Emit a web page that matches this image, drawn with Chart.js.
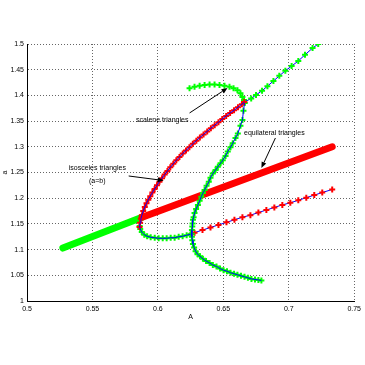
<!DOCTYPE html>
<html>
<head>
<meta charset="utf-8">
<title>triangles</title>
<script src="https://cdn.jsdelivr.net/npm/chart.js@4.4.1/dist/chart.umd.min.js"></script>
<style>
    html, body { margin: 0; padding: 0; background: #fff; }
    canvas { display: block; }
</style>
</head>
<body>
<canvas id="the-chart" width="365" height="365"></canvas>
<script>
// axis ticks
const xTicks = [0.5, 0.55, 0.6, 0.65, 0.7, 0.75];
const yTicks = [1, 1.05, 1.1, 1.15, 1.2, 1.25, 1.3, 1.35, 1.4, 1.45, 1.5];

// thick lines (equilateral)
const equiGreenX = [0.5274, 0.5880];
const equiGreenY = [1.103, 1.163];
const equiRedX = [0.5880, 0.7332];
const equiRedY = [1.163, 1.300];

// isosceles branch, red markers, upper part
const isoUpperX = [0.5860, 0.5864, 0.5870, 0.5878, 0.5888, 0.5900, 0.5913, 0.5927, 0.5942, 0.5958,
    0.5975, 0.5993, 0.6012, 0.6032, 0.6052, 0.6073, 0.6095, 0.6118, 0.6141, 0.6165,
    0.6190, 0.6215, 0.6241, 0.6267, 0.6294, 0.6321, 0.6349, 0.6377, 0.6405, 0.6434,
    0.6463, 0.6492, 0.6522, 0.6552, 0.6582, 0.6612, 0.6642, 0.6660];
const isoUpperY = [1.144, 1.152, 1.160, 1.167, 1.175, 1.183, 1.190, 1.197, 1.204, 1.211,
    1.218, 1.225, 1.232, 1.239, 1.246, 1.253, 1.260, 1.267, 1.274, 1.280,
    1.287, 1.293, 1.299, 1.306, 1.312, 1.318, 1.324, 1.330, 1.336, 1.342,
    1.348, 1.354, 1.360, 1.366, 1.371, 1.377, 1.383, 1.387];

// isosceles branch, red markers, lower right
const isoLowX = [0.6258, 0.6280, 0.6341, 0.6402, 0.6463, 0.6524, 0.6585, 0.6646, 0.6707, 0.6768,
    0.6829, 0.6890, 0.6951, 0.7012, 0.7073, 0.7134, 0.7195, 0.7256, 0.7332];
const isoLowY = [1.131, 1.133, 1.138, 1.143, 1.148, 1.153, 1.158, 1.163, 1.167, 1.172,
    1.177, 1.182, 1.187, 1.191, 1.196, 1.201, 1.206, 1.211, 1.217];

// green markers going up to the top right
const scalUpX = [0.6660, 0.6713, 0.6750, 0.6796, 0.6837, 0.6883, 0.6928, 0.6974, 0.7022, 0.7073,
    0.7124, 0.7182, 0.7225];
const scalUpY = [1.387, 1.394, 1.401, 1.409, 1.418, 1.428, 1.438, 1.448, 1.457, 1.467,
    1.479, 1.492, 1.500];

// green hook at the top (no line)
const hookTopX = [0.6242, 0.6280, 0.6319, 0.6357, 0.6395, 0.6433, 0.6471, 0.6509, 0.6547, 0.6578,
    0.6608, 0.6631, 0.6646, 0.6658, 0.6662];
const hookTopY = [1.414, 1.417, 1.419, 1.420, 1.421, 1.421, 1.420, 1.419, 1.417, 1.414,
    1.410, 1.404, 1.397, 1.391, 1.385];

// green branch going down and out to the right
const scalDownX = [0.6662, 0.6654, 0.6646, 0.6631, 0.6611, 0.6593, 0.6572, 0.6555, 0.6534, 0.6517,
    0.6496, 0.6479, 0.6458, 0.6441, 0.6420, 0.6402, 0.6389, 0.6372, 0.6357, 0.6344,
    0.6332, 0.6319, 0.6306, 0.6292, 0.6280, 0.6273, 0.6268, 0.6265, 0.6263, 0.6260,
    0.6259, 0.6260, 0.6263, 0.6268, 0.6277, 0.6288, 0.6303, 0.6322, 0.6344, 0.6368,
    0.6395, 0.6420, 0.6448, 0.6475, 0.6502, 0.6528, 0.6555, 0.6582, 0.6608, 0.6635,
    0.6662, 0.6688, 0.6715, 0.6742, 0.6768, 0.6791];
const scalDownY = [1.385, 1.370, 1.352, 1.341, 1.326, 1.317, 1.307, 1.299, 1.291, 1.282,
    1.274, 1.268, 1.261, 1.255, 1.248, 1.240, 1.232, 1.224, 1.216, 1.210,
    1.203, 1.195, 1.187, 1.179, 1.171, 1.163, 1.158, 1.151, 1.145, 1.138,
    1.131, 1.125, 1.118, 1.111, 1.104, 1.097, 1.091, 1.087, 1.082, 1.078,
    1.074, 1.070, 1.067, 1.063, 1.060, 1.058, 1.055, 1.053, 1.051, 1.049,
    1.047, 1.045, 1.043, 1.042, 1.041, 1.040];

// small green hook at the bottom left
const hookLowX = [0.5861, 0.5865, 0.5877, 0.5896, 0.5918, 0.5945, 0.5976, 0.6006, 0.6037, 0.6067,
    0.6098, 0.6128, 0.6159, 0.6189, 0.6220, 0.6250];
const hookLowY = [1.146, 1.140, 1.134, 1.129, 1.126, 1.124, 1.123, 1.122, 1.122, 1.122,
    1.123, 1.123, 1.125, 1.126, 1.128, 1.130];

// text notes with arrows, in data units
const notes = [
    { lines: ["scalene triangles"], at: [0.6033, 1.3521], from: [0.6242, 1.3658], to: [0.6532, 1.4144] },
    { lines: ["isosceles triangles", "(a=b)"], at: [0.5537, 1.2588], from: [0.5777, 1.2432], to: [0.6044, 1.2344] },
    { lines: ["equilateral triangles"], at: [0.6890, 1.3268], from: [0.6898, 1.3171], to: [0.6791, 1.2588] },
];

const FONT = "'Liberation Sans', Arial, Helvetica, sans-serif";

function pts(xs, ys) {
    return xs.map((x, i) => ({ x: x, y: ys[i] }));
}

// '+' markers, optionally with the blue line underneath
function markerSet(xs, ys, markerColor, withLine) {
    return {
        data: pts(xs, ys),
        showLine: withLine,
        borderColor: '#0000ff',
        borderWidth: 1,
        pointStyle: 'cross',
        pointRadius: 3,
        pointBorderWidth: 2,
        pointBorderColor: markerColor,
        pointBackgroundColor: markerColor,
    };
}

// plain blue line, used on top of the dense marker runs
function blueLine(xs, ys) {
    return {
        data: pts(xs, ys),
        showLine: true,
        borderColor: '#0000ff',
        borderWidth: 1,
        pointRadius: 0,
    };
}

function thickSet(xs, ys, color) {
    return {
        data: pts(xs, ys),
        showLine: true,
        borderColor: color,
        borderWidth: 7,
        borderCapStyle: 'round',
        pointRadius: 0,
    };
}

function fmt(v) {
    return String(Number(v.toFixed(2)));
}

const notesPlugin = {
    id: 'notes',
    afterDatasetsDraw(chart) {
        const ctx = chart.ctx;
        const xs = chart.scales.x, ys = chart.scales.y;
        ctx.save();
        ctx.fillStyle = '#000';
        ctx.strokeStyle = '#000';
        ctx.lineWidth = 1;
        ctx.font = "7px " + FONT;
        ctx.textAlign = 'center';
        ctx.textBaseline = 'middle';
        for (const n of notes) {
            const tx = xs.getPixelForValue(n.at[0]);
            const ty = ys.getPixelForValue(n.at[1]);
            n.lines.forEach((line, i) => ctx.fillText(line, tx, ty + i * 13));

            const x1 = xs.getPixelForValue(n.from[0]), y1 = ys.getPixelForValue(n.from[1]);
            const x2 = xs.getPixelForValue(n.to[0]), y2 = ys.getPixelForValue(n.to[1]);
            const ang = Math.atan2(y2 - y1, x2 - x1);
            const hl = 6, hw = 2.5;
            const bx = x2 - hl * Math.cos(ang), by = y2 - hl * Math.sin(ang);
            ctx.beginPath();
            ctx.moveTo(x1, y1);
            ctx.lineTo(bx, by);
            ctx.stroke();
            ctx.beginPath();
            ctx.moveTo(x2, y2);
            ctx.lineTo(bx + hw * Math.sin(ang), by - hw * Math.cos(ang));
            ctx.lineTo(bx - hw * Math.sin(ang), by + hw * Math.cos(ang));
            ctx.closePath();
            ctx.fill();
        }
        ctx.restore();
    }
};

const gridCommon = { color: 'rgba(0,0,0,0.6)', lineWidth: 1, drawTicks: false };
const borderCommon = { display: true, color: '#000', width: 1, dash: [1, 2] };

// dataset 0 is drawn on top, so the thick lines go last
const chart = new Chart(document.getElementById('the-chart'), {
    type: 'scatter',
    data: {
        datasets: [
            blueLine(isoUpperX, isoUpperY),
            blueLine(scalDownX, scalDownY),
            blueLine(hookLowX, hookLowY),
            markerSet(isoUpperX, isoUpperY, '#ff0000', false),
            markerSet(scalUpX, scalUpY, '#00ff00', true),
            markerSet(scalDownX, scalDownY, '#00ff00', false),
            markerSet(hookLowX, hookLowY, '#00ff00', false),
            markerSet(isoLowX, isoLowY, '#ff0000', true),
            markerSet(hookTopX, hookTopY, '#00ff00', false),
            thickSet(equiRedX, equiRedY, '#ff0000'),
            thickSet(equiGreenX, equiGreenY, '#00ff00'),
        ]
    },
    options: {
        responsive: false,
        animation: false,
        devicePixelRatio: 1,
        layout: { padding: { left: 0, top: 44, right: 10, bottom: 0 } },
        plugins: {
            legend: { display: false },
            tooltip: { enabled: false },
        },
        scales: {
            x: {
                type: 'linear',
                min: 0.5,
                max: 0.75,
                grid: gridCommon,
                border: borderCommon,
                afterBuildTicks: (scale) => { scale.ticks = xTicks.map(v => ({ value: v })); },
                afterFit: (scale) => { scale.height = 64; },
                ticks: {
                    color: '#000',
                    padding: 4,
                    maxRotation: 0,
                    font: { family: FONT, size: 7 },
                    callback: (v) => fmt(v),
                },
                title: {
                    display: true,
                    text: 'A',
                    color: '#000',
                    font: { family: FONT, size: 7 },
                    padding: { top: 0, bottom: 44 },
                },
            },
            y: {
                type: 'linear',
                min: 1,
                max: 1.5,
                grid: gridCommon,
                border: borderCommon,
                afterBuildTicks: (scale) => { scale.ticks = yTicks.map(v => ({ value: v })); },
                afterFit: (scale) => { scale.width = 27; },
                ticks: {
                    color: '#000',
                    padding: 3,
                    font: { family: FONT, size: 7 },
                    callback: (v) => fmt(v),
                },
                title: {
                    display: true,
                    text: 'a',
                    color: '#000',
                    font: { family: FONT, size: 7 },
                    padding: { top: 1, bottom: 0 },
                },
            },
        },
    },
    plugins: [notesPlugin],
});
</script>
</body>
</html>
